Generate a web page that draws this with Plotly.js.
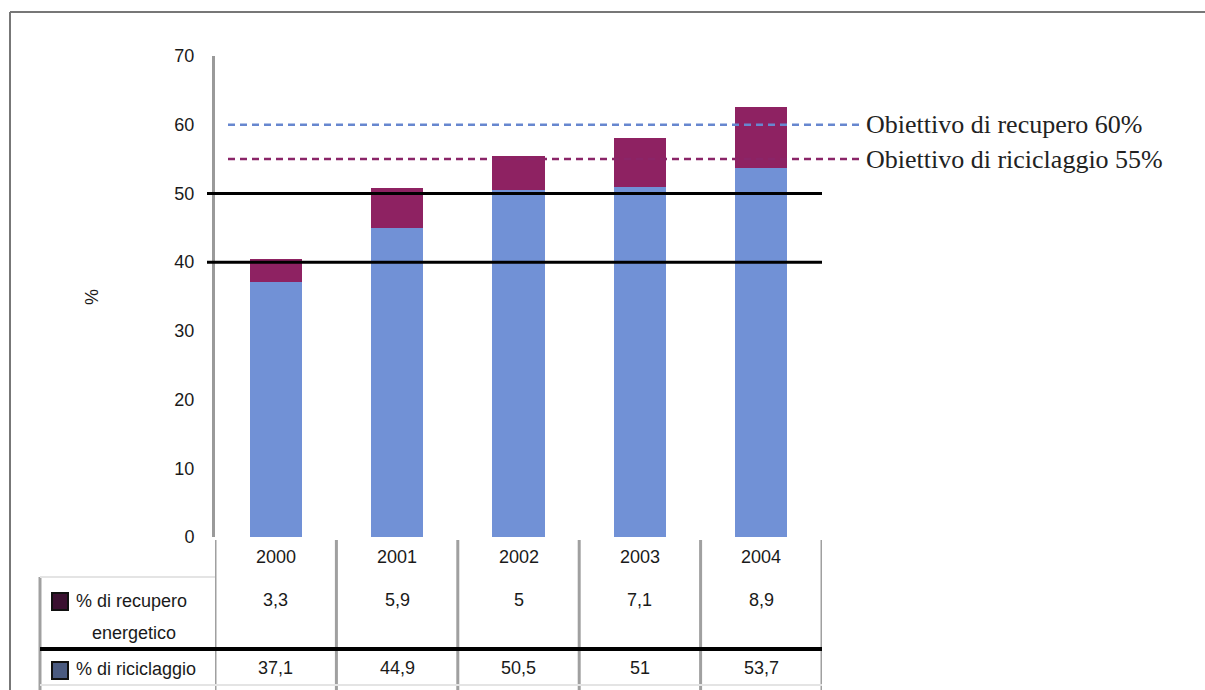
<!DOCTYPE html>
<html>
<head>
<meta charset="utf-8">
<script src="https://cdn.plot.ly/plotly-3.0.1.min.js"></script>
<style>
html,body{margin:0;padding:0;background:#fff;}
#chart{width:1205px;height:690px;}
</style>
</head>
<body>
<div id="chart"></div>
<script>
// ---- data ----
var years = ["2000", "2001", "2002", "2003", "2004"];
var riciclaggio = [37.1, 44.9, 50.5, 51, 53.7];
var recuperoEnergetico = [3.3, 5.9, 5, 7.1, 8.9];
var targetValues = [60, 55];
var targetLabels = ["Obiettivo di recupero 60%", "Obiettivo di riciclaggio 55%"];
var rowLabels = ["% di recupero", "energetico", "% di riciclaggio"];
var yTicks = [0, 10, 20, 30, 40, 50, 60, 70];
var blackLines = [40, 50];

// ---- geometry helpers (pixel -> paper) ----
var L = 215, R = 822, T = 56, B = 537;
function px(p){ return (p - L) / (R - L); }
function py(p){ return (B - p) / (B - T); }
function fmt(v){ return String(v).replace('.', ','); }

var blue = '#7191d6', purple = '#8e2262';
var traces = [
  {type:'bar', x:[0,1,2,3,4], y:riciclaggio, marker:{color:blue}, hoverinfo:'skip'},
  {type:'bar', x:[0,1,2,3,4], y:recuperoEnergetico, marker:{color:purple}, hoverinfo:'skip'}
];

var shapes = [];
var annotations = [];
var tfont = {family:'Liberation Sans, Arial, sans-serif', size:18, color:'#1a1a1a'};

// outer frame
shapes.push({type:'line', xref:'paper', yref:'paper', x0:px(10), x1:px(1205), y0:py(12), y1:py(12), line:{color:'#777', width:2}});
shapes.push({type:'line', xref:'paper', yref:'paper', x0:px(10), x1:px(10), y0:py(12), y1:py(690), line:{color:'#777', width:2}});

// black reference lines at 40 and 50
blackLines.forEach(function(v){
  shapes.push({type:'line', xref:'paper', yref:'y', x0:px(207), x1:px(822), y0:v, y1:v, line:{color:'#000', width:3}, layer:'above'});
});

// target dashed lines
var tcolors = ['#6787cf', '#8a2568'];
targetValues.forEach(function(v, i){
  shapes.push({type:'line', xref:'paper', yref:'y', x0:px(228), x1:px(864), y0:v, y1:v, line:{color:tcolors[i], width:2.5, dash:'7px,5px'}, layer:'above'});
  annotations.push({xref:'paper', yref:'y', x:px(864), y:v, text:targetLabels[i], showarrow:false, xanchor:'left', yanchor:'middle',
    font:{family:'Liberation Serif, Times New Roman, serif', size:26, color:'#222'}});
});

// table column separators
for (var k = 0; k <= years.length; k++){
  shapes.push({type:'line', xref:'x', yref:'paper', x0:k-0.5, x1:k-0.5, y0:py(540), y1:py(690), line:{color:'#a0a0a0', width:3}});
}
// left border of table
shapes.push({type:'line', xref:'paper', yref:'paper', x0:px(40), x1:px(40), y0:py(577), y1:py(690), line:{color:'#a0a0a0', width:3}});
// table horizontal lines
shapes.push({type:'line', xref:'paper', yref:'paper', x0:px(40), x1:px(215), y0:py(577), y1:py(577), line:{color:'#e4e4e4', width:2}});
shapes.push({type:'line', xref:'paper', yref:'paper', x0:px(40), x1:px(822), y0:py(649), y1:py(649), line:{color:'#000', width:4}});
shapes.push({type:'line', xref:'paper', yref:'paper', x0:px(40), x1:px(822), y0:py(685), y1:py(685), line:{color:'#e4e4e4', width:2}});

// legend keys in table
shapes.push({type:'rect', xref:'paper', yref:'paper', x0:px(52), x1:px(68), y0:py(593), y1:py(610), fillcolor:'#3a1030', line:{color:'#111', width:2}});
shapes.push({type:'rect', xref:'paper', yref:'paper', x0:px(52), x1:px(68), y0:py(662), y1:py(679), fillcolor:'#4a5a80', line:{color:'#111', width:2}});

// year labels and values
years.forEach(function(yr, i){
  annotations.push({xref:'x', yref:'paper', x:i, y:py(557), text:yr, showarrow:false, xanchor:'center', yanchor:'middle', font:tfont});
  annotations.push({xref:'x', yref:'paper', x:i, y:py(600), text:fmt(recuperoEnergetico[i]), showarrow:false, xanchor:'center', yanchor:'middle', font:tfont});
  annotations.push({xref:'x', yref:'paper', x:i, y:py(668), text:fmt(riciclaggio[i]), showarrow:false, xanchor:'center', yanchor:'middle', font:tfont});
});
// row labels
annotations.push({xref:'paper', yref:'paper', x:px(74), y:py(601), text:rowLabels[0], showarrow:false, xanchor:'left', yanchor:'middle', font:tfont});
annotations.push({xref:'paper', yref:'paper', x:px(134), y:py(633), text:rowLabels[1], showarrow:false, xanchor:'center', yanchor:'middle', font:tfont});
annotations.push({xref:'paper', yref:'paper', x:px(74), y:py(669), text:rowLabels[2], showarrow:false, xanchor:'left', yanchor:'middle', font:tfont});
// y axis title
annotations.push({xref:'paper', yref:'paper', x:px(92), y:py(297), text:'%', textangle:-90, showarrow:false, xanchor:'center', yanchor:'middle', font:tfont});

var layout = {
  width:1205, height:690,
  margin:{l:L, r:1205-R, t:T, b:690-B, pad:0},
  paper_bgcolor:'#fff', plot_bgcolor:'#fff',
  barmode:'stack', bargap:0.57, showlegend:false,
  xaxis:{range:[-0.5, 4.5], showticklabels:false, showgrid:false, zeroline:false, showline:false, ticks:'', fixedrange:true},
  yaxis:{range:[0, 70], tickvals:yTicks, showgrid:false, zeroline:false, showline:true, linecolor:'#9a9a9a', linewidth:3,
         ticks:'', ticklabelstandoff:14, tickfont:tfont, fixedrange:true},
  shapes:shapes,
  annotations:annotations
};
Plotly.newPlot('chart', traces, layout, {displayModeBar:false, staticPlot:true});
</script>
</body>
</html>
